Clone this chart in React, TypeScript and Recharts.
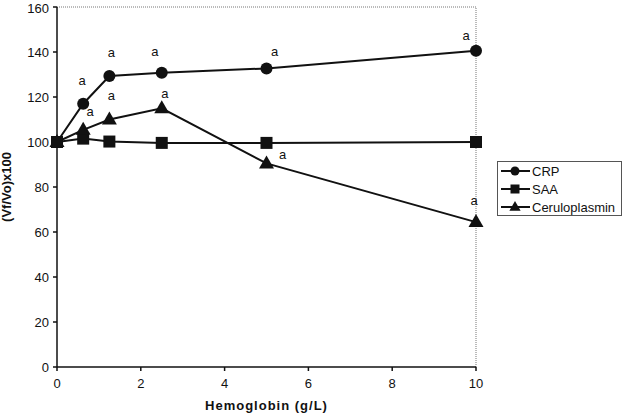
import {
  LineChart,
  Line,
  XAxis,
  YAxis,
  ReferenceLine,
  Label,
} from "recharts";

const HEMOGLOBIN = [0, 0.625, 1.25, 2.5, 5, 10];
const CRP = [100, 117, 129.3, 130.8, 132.7, 140.6];
const SAA = [100, 101.5, 100.2, 99.6, 99.6, 100];
const CERULOPLASMIN = [100, 105.4, 110, 115, 90.5, 64.4];

// "a" = significant vs. control
const CRP_SIG = [false, true, true, true, true, true];
const CERULO_SIG = [false, true, true, true, true, true];

const Y_TICKS = [0, 20, 40, 60, 80, 100, 120, 140, 160];
const X_TICKS = [0, 2, 4, 6, 8, 10];

// label nudges (px) for the "a" marks
const CRP_LABEL_DX = [0, -1, 2, -7, 8, -10];
const CRP_LABEL_DY = [0, -23, -24, -21, -17, -15];
const CERULO_LABEL_DX = [0, 7, 2, 3, 16, -2];
const CERULO_LABEL_DY = [0, -18, -24, -15, -9, -22];

const FONT = "'Liberation Sans', Arial, sans-serif";
const INK = "#111";

const data = HEMOGLOBIN.map((x, i) => ({
  x,
  crp: CRP[i],
  saa: SAA[i],
  cer: CERULOPLASMIN[i],
}));

function Circle({ cx, cy }: { cx?: number; cy?: number }) {
  if (cx == null || cy == null) return null;
  return <circle cx={cx} cy={cy} r={6} fill={INK} />;
}

function Square({ cx, cy }: { cx?: number; cy?: number }) {
  if (cx == null || cy == null) return null;
  return <rect x={cx - 6} y={cy - 6} width={12} height={12} fill={INK} />;
}

function Triangle({ cx, cy }: { cx?: number; cy?: number }) {
  if (cx == null || cy == null) return null;
  return (
    <polygon
      points={`${cx},${cy - 8} ${cx + 7.5},${cy + 5} ${cx - 7.5},${cy + 5}`}
      fill={INK}
    />
  );
}

function sigLabel(sig: boolean[], dx: number[], dy: number[]) {
  return (props: any) => {
    const { x, y, index } = props;
    if (!sig[index]) return null;
    return (
      <text
        key={index}
        x={x + dx[index]}
        y={y + dy[index]}
        textAnchor="middle"
        dominantBaseline="central"
        fontFamily={FONT}
        fontSize={13}
        style={{ fill: INK }}
      >
        a
      </text>
    );
  };
}

function LegendBox() {
  const rows = [
    { name: "CRP", Mark: Circle },
    { name: "SAA", Mark: Square },
    { name: "Ceruloplasmin", Mark: Triangle },
  ];
  return (
    <div
      style={{
        position: "absolute",
        left: 497,
        top: 161,
        width: 125,
        height: 55,
        border: "1px solid #555",
        boxSizing: "border-box",
        background: "#fff",
      }}
    >
      <svg width={123} height={53} style={{ display: "block" }}>
        {rows.map((r, i) => {
          const cy = 9 + i * 18;
          return (
            <g key={r.name}>
              <line x1={3} x2={32} y1={cy} y2={cy} stroke={INK} strokeWidth={2} />
              <g transform={`translate(17,${cy}) scale(0.75) translate(-17,${-cy})`}>
                <r.Mark cx={17} cy={cy} />
              </g>
              <text
                x={34}
                y={cy}
                dominantBaseline="central"
                fontFamily={FONT}
                fontSize={13}
                fill={INK}
              >
                {r.name}
              </text>
            </g>
          );
        })}
      </svg>
    </div>
  );
}

export default function App() {
  return (
    <div style={{ position: "absolute", left: 0, top: 0, width: 627, height: 416, background: "#fff" }}>
      <LineChart
        width={627}
        height={416}
        data={data}
        margin={{ top: 7, right: 151, bottom: 0, left: 0 }}
      >
        <ReferenceLine y={160} stroke="#777" strokeDasharray="1 1" />
        <ReferenceLine x={10} stroke="#777" strokeDasharray="1 1" />
        <XAxis
          dataKey="x"
          type="number"
          domain={[0, 10]}
          ticks={X_TICKS}
          height={49}
          stroke={INK}
          strokeWidth={1.5}
          tickSize={4}
          tick={{ fontFamily: FONT, fontSize: 13, fill: INK, dy: 6 }}
        >
          <Label
            value="Hemoglobin  (g/L)"
            position="insideBottom"
            offset={6}
            style={{ fontFamily: FONT, fontSize: 13, fontWeight: "bold", fill: INK, whiteSpace: "pre", letterSpacing: 1 }}
          />
        </XAxis>
        <YAxis
          type="number"
          domain={[0, 160]}
          ticks={Y_TICKS}
          width={57}
          stroke={INK}
          strokeWidth={1.5}
          tickSize={4}
          tick={{ fontFamily: FONT, fontSize: 13, fill: INK, dx: -2 }}
        >
          <Label
            value="(Vf/Vo)x100"
            angle={-90}
            position="insideLeft"
            offset={6}
            style={{ fontFamily: FONT, fontSize: 13, fontWeight: "bold", fill: INK, textAnchor: "middle" }}
          />
        </YAxis>
        <Line
          dataKey="saa"
          stroke={INK}
          strokeWidth={2}
          dot={<Square />}
          activeDot={false}
          isAnimationActive={false}
        />
        <Line
          dataKey="cer"
          stroke={INK}
          strokeWidth={2}
          dot={<Triangle />}
          activeDot={false}
          isAnimationActive={false}
          label={sigLabel(CERULO_SIG, CERULO_LABEL_DX, CERULO_LABEL_DY)}
        />
        <Line
          dataKey="crp"
          stroke={INK}
          strokeWidth={2}
          dot={<Circle />}
          activeDot={false}
          isAnimationActive={false}
          label={sigLabel(CRP_SIG, CRP_LABEL_DX, CRP_LABEL_DY)}
        />
      </LineChart>
      <LegendBox />
    </div>
  );
}
